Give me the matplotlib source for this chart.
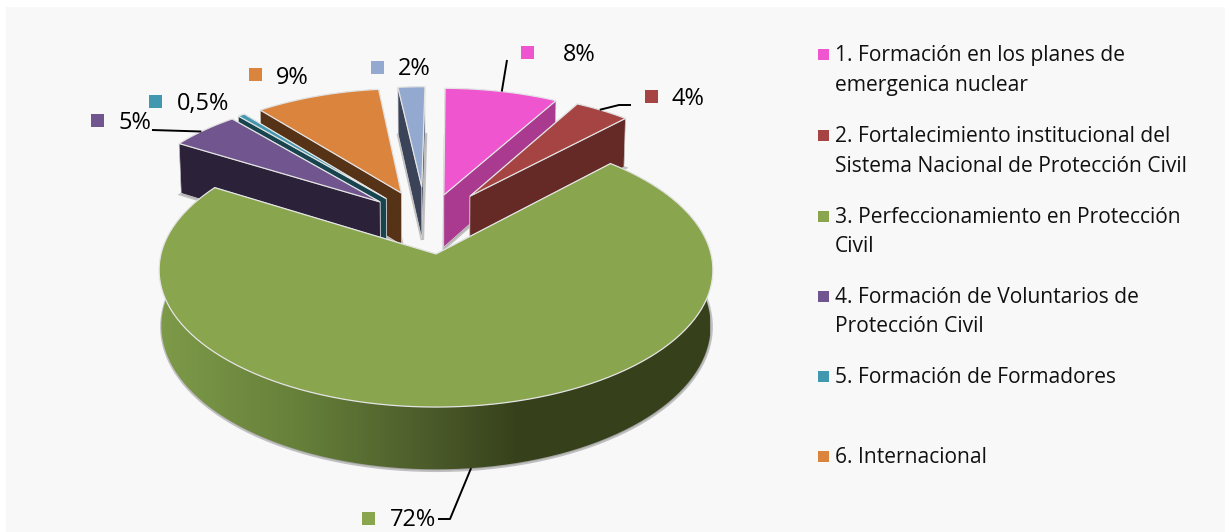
import numpy as np
import matplotlib
matplotlib.use("Agg")
import matplotlib.pyplot as plt
from matplotlib.patches import Polygon, Rectangle
from matplotlib.colors import LinearSegmentedColormap

plt.rcParams['font.family'] = ['Open Sans', 'DejaVu Sans']

# --- Data ---
values = [8, 4, 72, 5, 0.5, 9, 2]
value_labels = ["8%", "4%", "72%", "5%", "0,5%", "9%", "2%"]
legend_labels = [
    ["1. Formación en los planes de", "emergenica nuclear"],
    ["2. Fortalecimiento institucional del", "Sistema Nacional de Protección Civil"],
    ["3. Perfeccionamiento en Protección", "Civil"],
    ["4. Formación de Voluntarios de", "Protección Civil"],
    ["5. Formación de Formadores"],
    ["6. Internacional"],
]

# --- Style ---
top_colors = ["#EE55CF", "#A64444", "#89A54E", "#71558E", "#4198AF", "#DB843D", "#93A9CF"]
wall_colors = ["#A93A90", "#652926", "#36411B", "#2B2138", "#17444F", "#563217", "#3A4358"]
explode_u = [0.03, 0.13, 0.0, -0.213, -0.19, -0.133, -0.055]
explode_v = [0.46, 0.45, 0.0, 0.403, 0.43, 0.476, 0.526]
slice_radius = [0.97, 0.945, 1.0, 0.96, 0.96, 0.95, 0.92]
draw_order = [6, 0, 5, 4, 3, 1, 2]

# pie plane -> pixels, with a bit of perspective
CX, CY = 436, 254
A, B = 275, 135.2
PERSP = 0.1167
DEPTH = 55
BOTTOM_SHRINK = 0.992
START_ANGLE = 0.5

# label layout: marker x, marker y, text x, text y
label_layout = [
    (527, 52, 563, 55),
    (651, 96, 672, 99),
    (368, 518, 390, 520),
    (97, 120, 119, 123),
    (155, 101, 177, 104),
    (255, 74, 276, 78),
    (377, 67, 398, 69),
]
# leader lines: slice, where on the arc (0-1), on the bottom rim or not, next points
leaders = [
    (0, 0.50, False, [(507, 60)]),
    (1, 0.45, False, [(619, 105), (631, 105)]),
    (2, 0.504, True, [(450, 519), (438, 519)]),
    (3, 0.45, False, [(152, 130)]),
]
legend_y = [55.5, 136.5, 217.5, 297.5, 377.5, 457.5]
LINE_GAP = 29.5


def project(u, v, depth=0.0):
    w = 1 + PERSP * v
    scale = 1 - (1 - BOTTOM_SHRINK) * depth
    return CX + scale * A * u / w, CY - B * v / w + depth * DEPTH / w


def slice_points(i, theta0, theta1, depth=0.0):
    # apex + outer arc of one slice, in pixels
    th = np.radians(np.linspace(theta0, theta1, 120))
    r = slice_radius[i]
    u = explode_u[i] + r * np.sin(th)
    v = explode_v[i] + r * np.cos(th)
    ax_x, ax_y = project(explode_u[i], explode_v[i], depth)
    x, y = project(u, v, depth)
    return (ax_x, ax_y), np.column_stack([x, y])


fractions = np.array(values) / np.sum(values) * 360
ends = START_ANGLE + np.cumsum(fractions)
starts = ends - fractions

fig = plt.figure(figsize=(12.25, 5.32), dpi=100, facecolor="white")
ax = fig.add_axes([0, 0, 1, 1])
ax.set_xlim(0, 1225)
ax.set_ylim(532, 0)
ax.axis("off")
ax.add_patch(Rectangle((6, 7), 1219, 525, facecolor="#F8F8F8", edgecolor="none", zorder=0))

green_cmap = LinearSegmentedColormap.from_list(
    "rim", [(0.0, "#7D9A48"), (0.25, "#66803A"), (0.5, "#4A5929"), (0.65, "#36411B"), (1.0, "#36411B")]
)

# --- 3D slices, back to front ---
z = 1
for i in draw_order:
    (ax0, ay0), arc_top = slice_points(i, starts[i], ends[i])
    (bx0, by0), arc_bot = slice_points(i, starts[i], ends[i], depth=1.0)

    # soft shadow round the bottom face
    bottom = np.vstack([[bx0, by0], arc_bot])
    ax.add_patch(Polygon(bottom + [0.5, 1.0], closed=True, facecolor="#8A8A8A", edgecolor="#8A8A8A",
                         lw=2.5, alpha=0.5, zorder=z))
    z += 1

    # outer rim
    rim = np.vstack([arc_top, arc_bot[::-1]])
    rim_patch = Polygon(rim, closed=True, facecolor=wall_colors[i], edgecolor="none", zorder=z)
    ax.add_patch(rim_patch)
    if i == 2:
        img = ax.imshow(np.linspace(0, 1, 256).reshape(1, -1), cmap=green_cmap, aspect="auto",
                        extent=(arc_bot[:, 0].min(), arc_bot[:, 0].max() * 0.999, 532, 0), zorder=z)
        img.set_clip_path(rim_patch)
        rim_patch.set_facecolor("none")
    z += 1

    # the two radial walls, the one facing us last
    wall_a = np.array([[ax0, ay0], arc_top[0], arc_bot[0], [bx0, by0]])
    wall_b = np.array([[ax0, ay0], arc_top[-1], arc_bot[-1], [bx0, by0]])
    middle = (starts[i] + ends[i]) / 2
    walls = [wall_a, wall_b] if middle < 180 else [wall_b, wall_a]
    for wall in walls:
        ax.add_patch(Polygon(wall, closed=True, facecolor=wall_colors[i], edgecolor="#D8D8D8", lw=0.5, zorder=z))
        z += 1

    # top face
    top = np.vstack([[ax0, ay0], arc_top])
    ax.add_patch(Polygon(top, closed=True, facecolor=top_colors[i], edgecolor="#E4E4E4", lw=0.9, zorder=z))
    z += 1

# restore after imshow
ax.set_xlim(0, 1225)
ax.set_ylim(532, 0)

# --- Leader lines ---
for i, pos, on_bottom, rest in leaders:
    angle = starts[i] + pos * (ends[i] - starts[i])
    _, arc = slice_points(i, angle, angle, depth=1.0 if on_bottom else 0.0)
    xs = [arc[0, 0]] + [p[0] for p in rest]
    ys = [arc[0, 1]] + [p[1] for p in rest]
    ax.plot(xs, ys, color="black", lw=1.4, zorder=z, solid_capstyle="butt")

# --- Data labels ---
z += 1
for i, (mx, my, tx, ty) in enumerate(label_layout):
    ax.add_patch(Rectangle((mx - 6.5, my - 6.5), 13, 13, facecolor=top_colors[i], edgecolor="none", zorder=z))
    ax.text(tx, ty, value_labels[i], fontsize=16.9, color="black", ha="left", va="center", zorder=z)

# --- Legend ---
for i, lines in enumerate(legend_labels):
    ax.add_patch(Rectangle((817.5, legend_y[i] - 7), 11, 11, facecolor=top_colors[i], edgecolor="none", zorder=z))
    for j, line in enumerate(lines):
        ax.text(835, legend_y[i] + j * LINE_GAP, line, fontsize=15.1, color="#111111",
                ha="left", va="center", zorder=z)

fig.savefig("out.png", dpi=100)
